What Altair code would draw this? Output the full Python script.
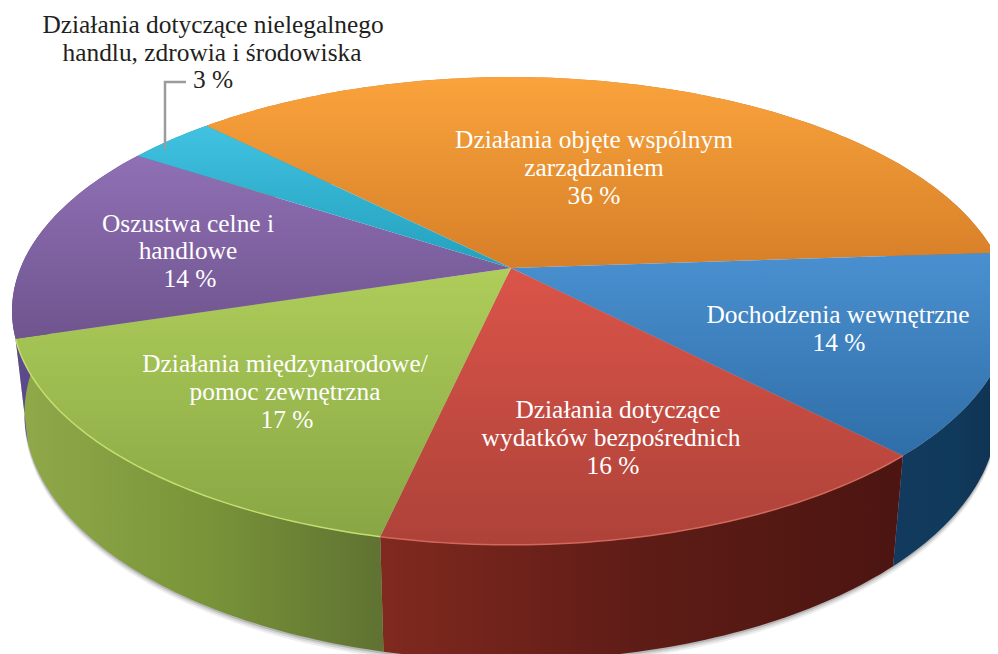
import math
import altair as alt
import pandas as pd

categories = ["Działania objęte wspólnym zarządzaniem", "Dochodzenia wewnętrzne",
              "Działania dotyczące wydatków bezpośrednich", "Działania międzynarodowe/pomoc zewnętrzna",
              "Oszustwa celne i handlowe", "Działania dotyczące nielegalnego handlu, zdrowia i środowiska"]
shares = [36.3, 13.9, 15.7, 16.7, 14.0, 3.4]
top_colors = [("#FAA33C", "#D67F28"), ("#4A90D0", "#2F6EA8"), ("#DB5449", "#AD4239"),
              ("#AECD5A", "#88A644"), ("#9070B5", "#6F548E"), ("#40C2E0", "#24A0BE")]
side_colors = [("#C97A26", "#C97A26", "#B06A20"), ("#123A5E", "#103A5C", "#10304F"),
               ("#80291F", "#5E1C16", "#4C1511"), ("#90AA4A", "#7A9539", "#5F7232"),
               ("#5E4A90", "#55437F", "#4C3B78"), ("#2A9AB5", "#2A9AB5", "#1F7C93")]
label_lines = [
    ("Działania dotyczące nielegalnego", 213, 33, "#231F20"),
    ("handlu, zdrowia i środowiska", 212, 61, "#231F20"),
    ("3 %", 213, 88, "#231F20"),
    ("Działania objęte wspólnym", 594, 148, "white"),
    ("zarządzaniem", 594, 176, "white"),
    ("36 %", 594, 204, "white"),
    ("Dochodzenia wewnętrzne", 838, 323, "white"),
    ("14 %", 839, 351, "white"),
    ("Działania dotyczące", 618, 418, "white"),
    ("wydatków bezpośrednich", 611, 446, "white"),
    ("16 %", 613, 474, "white"),
    ("Działania międzynarodowe/", 285, 372, "white"),
    ("pomoc zewnętrzna", 285, 400, "white"),
    ("17 %", 287, 428, "white"),
    ("Oszustwa celne i", 188, 232, "white"),
    ("handlowe", 188, 259, "white"),
    ("14 %", 190, 287, "white"),
]
leader_x = [186, 165, 165]
leader_y = [82, 82, 149]

START = -44.6
CX, CY, A, B, K = 511, 268, 490.5, 226, 0.1837


def rim(t):
    r = math.radians(t)
    u, v = math.sin(r), -math.cos(r)
    w = 1 - K * v
    return CX + A * u / w, CY + B * v / w


def low(x, y, extra=0.0):
    return CX + 0.975 * (x - CX), y + 104 + 0.0556 * (y - 339) + extra


X = alt.X("x:Q", scale=alt.Scale(domain=[8, 990], nice=False, zero=False), axis=None)
Y = alt.Y("y:Q", scale=alt.Scale(domain=[654, 8], nice=False, zero=False), axis=None)


def poly(points, fill, **kw):
    df = pd.DataFrame([{"x": p[0], "y": p[1], "i": i} for i, p in enumerate(points)])
    return alt.Chart(df).mark_line(fill=fill, strokeWidth=0, clip=True, **kw).encode(x=X, y=Y, order="i:Q")


def grad(colors, vertical=True):
    stops = [alt.GradientStop(color=c, offset=i / (len(colors) - 1)) for i, c in enumerate(colors)]
    return alt.Gradient(gradient="linear", x1=0, y1=0, x2=0 if vertical else 1, y2=1 if vertical else 0, stops=stops)


edges = [START]
for s in shares:
    edges.append(edges[-1] + s * 3.6)


def arc_pts(a0, a1):
    n = max(3, int(abs(a1 - a0)))
    return [rim(a0 + (a1 - a0) * i / n) for i in range(n + 1)]


layers = []
# soft ground shadow under the lower rim
for extra, op in [(6, 0.10), (4, 0.15), (2, 0.25)]:
    pts = arc_pts(60, 290)
    layers.append(poly([low(*p, extra) for p in pts], "#555555", opacity=op))

# sides, then top faces
for i, s in enumerate(shares):
    pts = arc_pts(edges[i], edges[i + 1])
    side = pts + [low(*p) for p in reversed(pts)]
    layers.append(poly(side, grad(side_colors[i], vertical=False)))
for i, s in enumerate(shares):
    pts = [(CX, CY)] + arc_pts(edges[i], edges[i + 1])
    layers.append(poly(pts, grad(top_colors[i])))

# pale edge highlight along the front rim
for i, col in [(2, "#D2685C"), (3, "#C4DE72")]:
    df = pd.DataFrame([{"x": p[0], "y": p[1], "i": j} for j, p in enumerate(arc_pts(edges[i], edges[i + 1]))])
    layers.append(alt.Chart(df).mark_line(color=col, strokeWidth=1.5, clip=True).encode(x=X, y=Y, order="i:Q"))

leader = pd.DataFrame({"x": leader_x, "y": leader_y, "i": range(3)})
layers.append(alt.Chart(leader).mark_line(color="#9A9B9D", strokeWidth=2.5).encode(x=X, y=Y, order="i:Q"))

labels = pd.DataFrame(label_lines, columns=["t", "x", "y", "c"])
layers.append(alt.Chart(labels).mark_text(font="Liberation Serif", fontSize=25.4, baseline="alphabetic", align="center").encode(
    x=X, y=Y, text="t:N", color=alt.Color("c:N", scale=None)))

chart = alt.layer(*layers).properties(width=982, height=646, padding=0, background="white",
                                      autosize=alt.AutoSizeParams(type="none")).configure_view(stroke=None)
chart.save("out.html", embed_options={"renderer": "svg", "actions": False})
